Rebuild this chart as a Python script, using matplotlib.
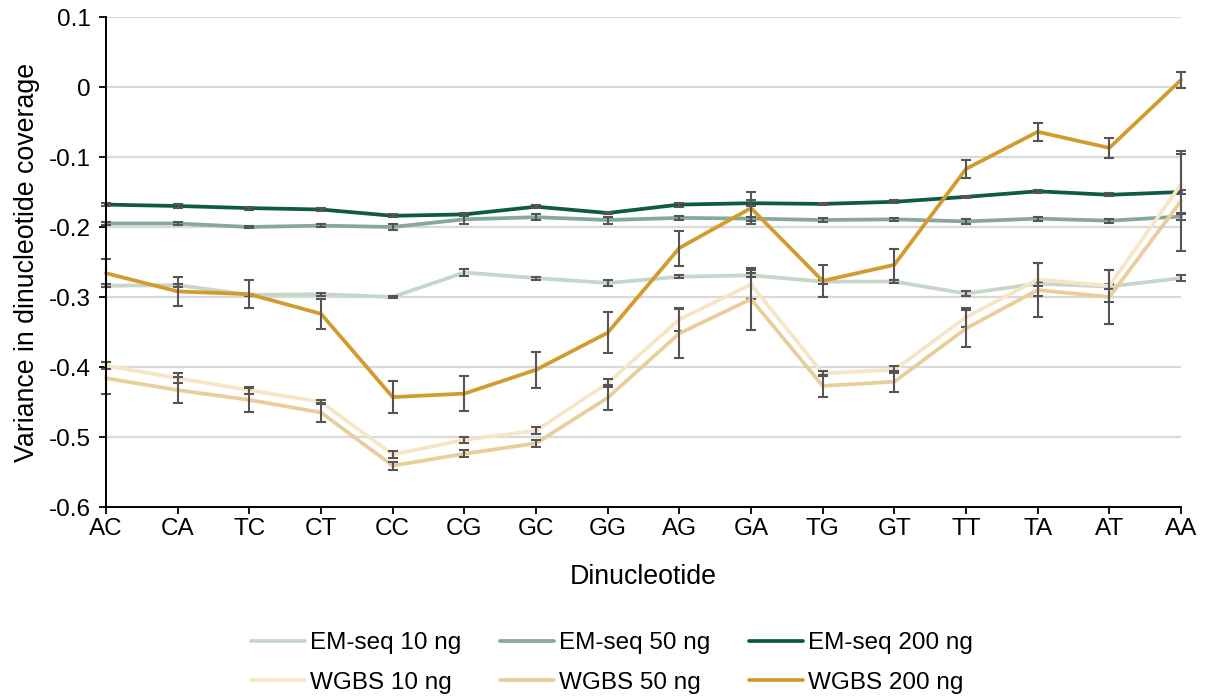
import numpy as np
import matplotlib
matplotlib.use("Agg")
import matplotlib.pyplot as plt
from matplotlib.ticker import FixedLocator, FixedFormatter

plt.rcParams['font.family'] = ['Liberation Sans', 'DejaVu Sans']

# ---------------- data ----------------
categories = ["AC", "CA", "TC", "CT", "CC", "CG", "GC", "GG",
              "AG", "GA", "TG", "GT", "TT", "TA", "AT", "AA"]

series_names = ["EM-seq 10 ng", "EM-seq 50 ng", "EM-seq 200 ng",
                "WGBS 10 ng", "WGBS 50 ng", "WGBS 200 ng"]

em10 = [-0.284, -0.283, -0.297, -0.296, -0.300, -0.265, -0.273, -0.280,
        -0.271, -0.269, -0.278, -0.278, -0.295, -0.281, -0.285, -0.273]
em50 = [-0.195, -0.195, -0.200, -0.198, -0.200, -0.189, -0.186, -0.190,
        -0.187, -0.188, -0.190, -0.189, -0.192, -0.188, -0.191, -0.185]
em200 = [-0.168, -0.170, -0.173, -0.175, -0.184, -0.182, -0.171, -0.180,
         -0.168, -0.166, -0.167, -0.164, -0.157, -0.149, -0.154, -0.150]
wgbs10 = [-0.398, -0.416, -0.433, -0.450, -0.525, -0.504, -0.491, -0.423,
          -0.332, -0.282, -0.409, -0.404, -0.329, -0.275, -0.284, -0.139]
wgbs50 = [-0.416, -0.433, -0.447, -0.465, -0.541, -0.524, -0.509, -0.444,
          -0.352, -0.303, -0.427, -0.421, -0.345, -0.290, -0.300, -0.163]
wgbs200 = [-0.266, -0.292, -0.296, -0.324, -0.443, -0.438, -0.404, -0.351,
           -0.230, -0.173, -0.277, -0.254, -0.117, -0.064, -0.087, 0.010]

em10_err = [0.002, 0.002, 0.002, 0.002, 0.002, 0.005, 0.002, 0.004,
            0.002, 0.003, 0.003, 0.002, 0.004, 0.003, 0.003, 0.004]
em50_err = [0.002, 0.002, 0.002, 0.002, 0.004, 0.007, 0.004, 0.005,
            0.003, 0.003, 0.003, 0.002, 0.003, 0.003, 0.003, 0.005]
em200_err = [0.002, 0.003, 0.002, 0.002, 0.002, 0.002, 0.002, 0.002,
             0.003, 0.004, 0.002, 0.002, 0.002, 0.002, 0.002, 0.003]
wgbs10_err = [0.005, 0.007, 0.005, 0.003, 0.005, 0.004, 0.005, 0.006,
              0.017, 0.021, 0.004, 0.005, 0.014, 0.024, 0.023, 0.043]
wgbs50_err = [0.023, 0.019, 0.017, 0.013, 0.006, 0.005, 0.005, 0.018,
              0.035, 0.044, 0.016, 0.015, 0.026, 0.039, 0.039, 0.071]
wgbs200_err = [0.020, 0.021, 0.020, 0.021, 0.023, 0.025, 0.026, 0.029,
               0.025, 0.023, 0.023, 0.022, 0.013, 0.013, 0.014, 0.012]

y_ticks = [0.1, 0.0, -0.1, -0.2, -0.3, -0.4, -0.5, -0.6]
y_tick_labels = ["0.1", "0", "-0.1", "-0.2", "-0.3", "-0.4", "-0.5", "-0.6"]

x_label = "Dinucleotide"
y_label = "Variance in dinucleotide coverage"

# ---------------- style ----------------
colors = ["#c6d7c8", "#87a999", "#0f5a46", "#f6e5c6", "#e9cd9a", "#d29b2b"]
err_color = "#555555"

values = [em10, em50, em200, wgbs10, wgbs50, wgbs200]
errors = [em10_err, em50_err, em200_err, wgbs10_err, wgbs50_err, wgbs200_err]

fig = plt.figure(figsize=(12.11, 6.98), dpi=100)
ax = fig.add_axes([106 / 1211, 1 - 507 / 698, (1181 - 106) / 1211, 490 / 698])

x = np.arange(len(categories))
handles = []
for i, (vals, errs, col, name) in enumerate(zip(values, errors, colors, series_names)):
    ln, = ax.plot(x, vals, color=col, lw=2.7, solid_capstyle='round',
                  solid_joinstyle='round', label=name, zorder=3 + 2 * i, clip_on=False)
    ax.errorbar(x, vals, yerr=errs, fmt='none', ecolor=err_color, elinewidth=1.5,
                capsize=3.6, capthick=1.5, zorder=4 + 2 * i, clip_on=False)
    handles.append(ln)

ax.set_xlim(0, len(categories) - 1)
ax.set_ylim(-0.6, 0.1)
ax.set_xticks(x)
ax.set_xticklabels(categories)
ax.yaxis.set_major_locator(FixedLocator(y_ticks))
ax.yaxis.set_major_formatter(FixedFormatter(y_tick_labels))

ax.yaxis.grid(True, color="#d9d9d9", lw=1.6)
ax.set_axisbelow(True)

for s in ["top", "right"]:
    ax.spines[s].set_visible(False)
for s in ["left", "bottom"]:
    ax.spines[s].set_color("black")
    ax.spines[s].set_linewidth(1.4)
    ax.spines[s].set_zorder(20)

ax.tick_params(axis='y', direction='out', length=5, width=1.3, labelsize=17.5, pad=6)
ax.tick_params(axis='x', direction='out', length=5, width=1.3, labelsize=17.5, pad=3)

ax.set_xlabel(x_label, fontsize=19.3, labelpad=17)
ax.set_ylabel(y_label, fontsize=19.3, labelpad=6)

order = [0, 3, 1, 4, 2, 5]
leg = fig.legend([handles[k] for k in order], [series_names[k] for k in order],
                 ncol=3, loc='center', bbox_to_anchor=(612 / 1211, 1 - 663 / 698),
                 frameon=False, fontsize=17.5, handlelength=2.2, handletextpad=0.22,
                 columnspacing=1.6, labelspacing=0.72)

fig.savefig("out.png", dpi=100)
